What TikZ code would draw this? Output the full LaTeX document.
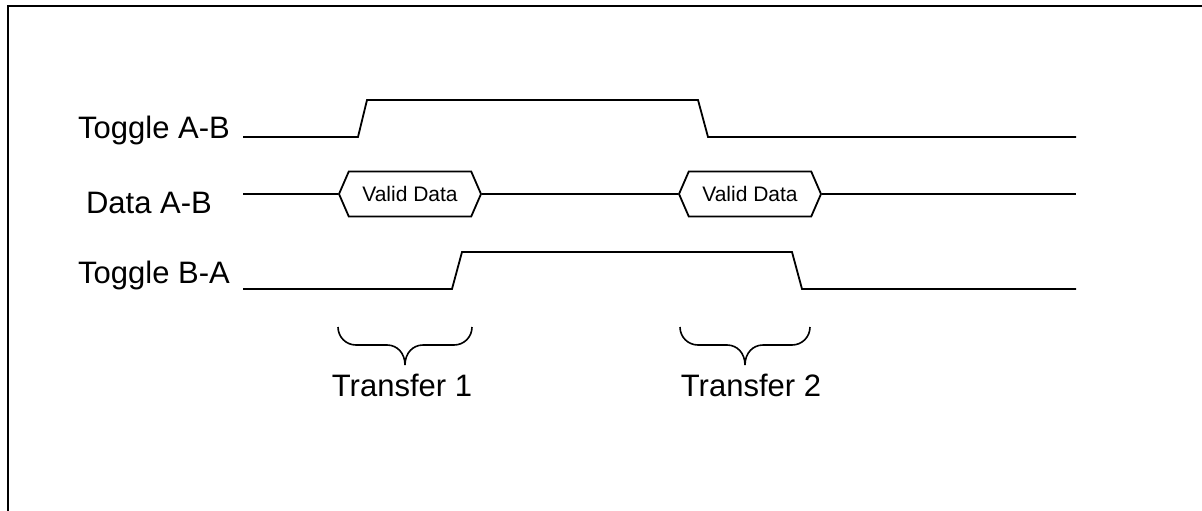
\documentclass[tikz,border=0pt]{standalone}
\usepackage{fontspec}
\setmainfont{Liberation Sans}
\usetikzlibrary{shapes.symbols}

\tikzset{
  wave/.style={line width=1.8pt, line join=miter},
  sig/.style={font=\fontsize{31}{37}\selectfont, inner sep=0pt},
  valid/.style={signal, signal to=east and west, signal pointer angle=133, draw,
    line width=1.8pt, minimum width=142pt, minimum height=45pt, inner sep=0pt,
    font=\fontsize{21}{25}\selectfont},
  xfer/.style={line width=1.6pt},
}

\begin{document}
\begin{tikzpicture}[x=1pt,y=-1pt]
\useasboundingbox (0,0) rectangle (1202,511);
%\draw[help lines] (0,0) grid[step=50] (1202,511);

% frame
\draw[line width=2pt] (8,511) -- (8,6) -- (1202,6);

\node[sig, anchor=base east] (TAB) at (230,138) {Toggle A-B};
\node[sig, anchor=base east] (DAB) at (212,213) {Data A-B};
\node[sig, anchor=base east] (TBA) at (230,283) {Toggle B-A};

\coordinate (D0) at (243,194);
\coordinate (D1) at (1076,194);

% toggle A-B
\draw[wave] (243,137) -- (358,137) -- (367,100) -- (698,100) -- (708,137) -- (1076,137);

% data A-B
\node[valid] (V1) at (410,194) {Valid Data};
\node[valid] (V2) at (750,194) {Valid Data};
\draw[wave] (D0) -- (V1.west) (V1.east) -- (V2.west) (V2.east) -- (D1);

% toggle B-A
\draw[wave] (243,289) -- (452,289) -- (462,252) -- (792,252) -- (802,289) -- (1076,289);

% transfers
\foreach \a/\b in {338/472, 680/810}{
  \pgfmathsetmacro\m{(\a+\b)/2}
  \draw[xfer] (\a,327) .. controls (\a,337) and ({\a+8},345) .. ({\a+18},345)
    -- ({\m-18},345) .. controls ({\m-8},345) and (\m,353) .. (\m,365)
    .. controls (\m,353) and ({\m+8},345) .. ({\m+18},345)
    -- ({\b-18},345) .. controls ({\b-8},345) and (\b,337) .. (\b,327);
}
\node[sig, anchor=base] (T1) at (402,396) {Transfer 1};
\node[sig, anchor=base] (T2) at (751,396) {Transfer 2};
\end{tikzpicture}
\end{document}
